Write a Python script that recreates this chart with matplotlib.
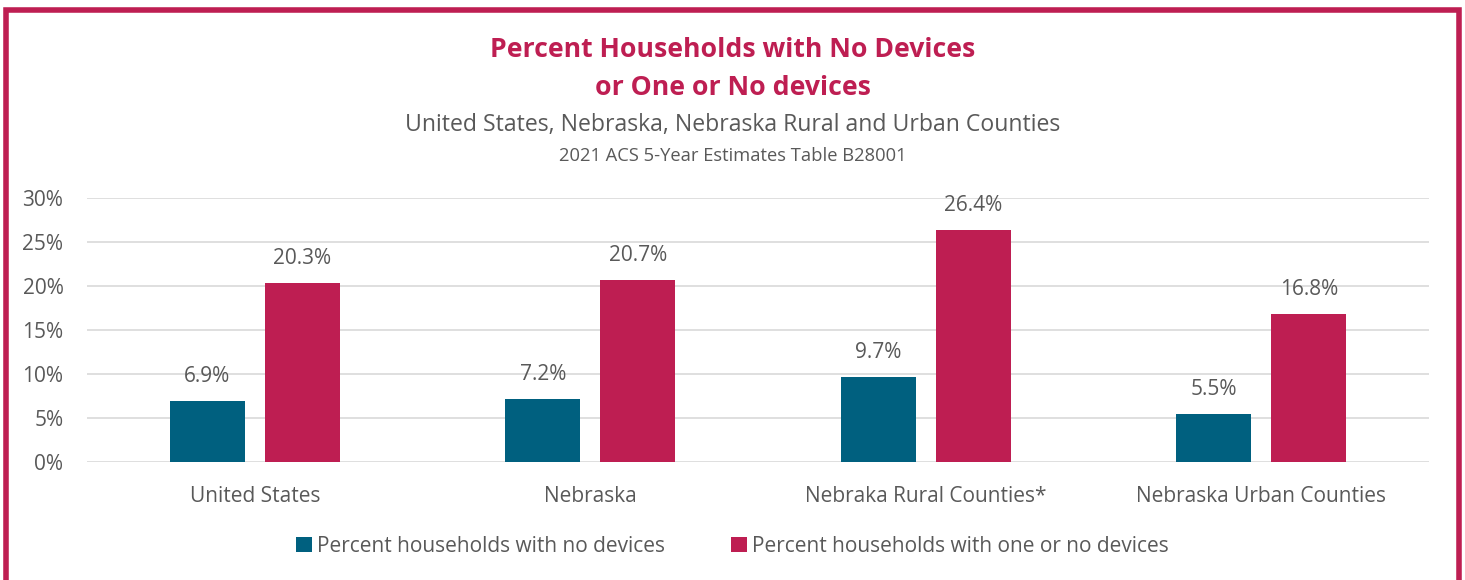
import matplotlib.pyplot as plt
import numpy as np
from matplotlib.patches import Rectangle

categories = ['United States', 'Nebraska', 'Nebraka Rural Counties*', 'Nebraska Urban Counties']
no_devices = [6.9, 7.2, 9.7, 5.5]
one_or_no = [20.3, 20.7, 26.4, 16.8]
series_names = ['Percent households with no devices', 'Percent households with one or no devices']
yticks = [0, 5, 10, 15, 20, 25, 30]

blue = '#00607F'
crimson = '#BE1E52'
gray = '#595959'

plt.rcParams['font.family'] = ['Open Sans', 'DejaVu Sans']

fig = plt.figure(figsize=(14.65, 5.8), dpi=100)
ax = fig.add_axes([87 / 1465, 1 - 462 / 580, 1342 / 1465, 264 / 580])

x = np.arange(len(categories))
w = 0.224
off = 0.1416
b1 = ax.bar(x - off, no_devices, w, color=blue, label=series_names[0], zorder=3)
b2 = ax.bar(x + off, one_or_no, w, color=crimson, label=series_names[1], zorder=3)

for bars in (b1, b2):
    for r in bars:
        h = r.get_height()
        ax.text(r.get_x() + r.get_width() / 2, h + 1.6, f'{h:.1f}%', ha='center', va='bottom',
                fontsize=15, color=gray)

ax.set_xlim(-0.5, 3.5)
ax.set_ylim(0, 30)
ax.set_yticks(yticks)
ax.set_yticklabels([f'{t}%' for t in yticks], fontsize=15, color=gray)
ax.set_xticks(x)
ax.set_xticklabels(categories, fontsize=15, color=gray)
ax.tick_params(length=0)
ax.tick_params(axis='x', pad=17)
ax.tick_params(axis='y', pad=17)
ax.grid(axis='y', color='#D9D9D9', linewidth=1.2, zorder=0)
for s in ax.spines.values():
    s.set_visible(False)

fig.text(0.5, 1 - 50 / 580, 'Percent Households with No Devices', ha='center', va='center',
         fontsize=19.2, fontweight='bold', color=crimson)
fig.text(0.5, 1 - 88 / 580, 'or One or No devices', ha='center', va='center',
         fontsize=19.2, fontweight='bold', color=crimson)
fig.text(0.5, 1 - 125 / 580, 'United States, Nebraska, Nebraska Rural and Urban Counties', ha='center',
         va='center', fontsize=16.6, color=gray)
fig.text(0.5, 1 - 156 / 580, '2021 ACS 5-Year Estimates Table B28001', ha='center', va='center',
         fontsize=13.2, color=gray)

fig.legend(handles=[b1, b2], loc='center', bbox_to_anchor=(0.5, 1 - 546 / 580), ncol=2, frameon=False,
           fontsize=15, labelcolor=gray, handlelength=0.75, handleheight=0.75, handletextpad=0.25,
           columnspacing=3.2)

fig.patches.append(Rectangle((5.5 / 1465, -0.1), 1453 / 1465, 1.1 - 10 / 580, transform=fig.transFigure,
                             fill=False, edgecolor=crimson, linewidth=4, clip_on=False))

fig.savefig('out.png', dpi=100)
